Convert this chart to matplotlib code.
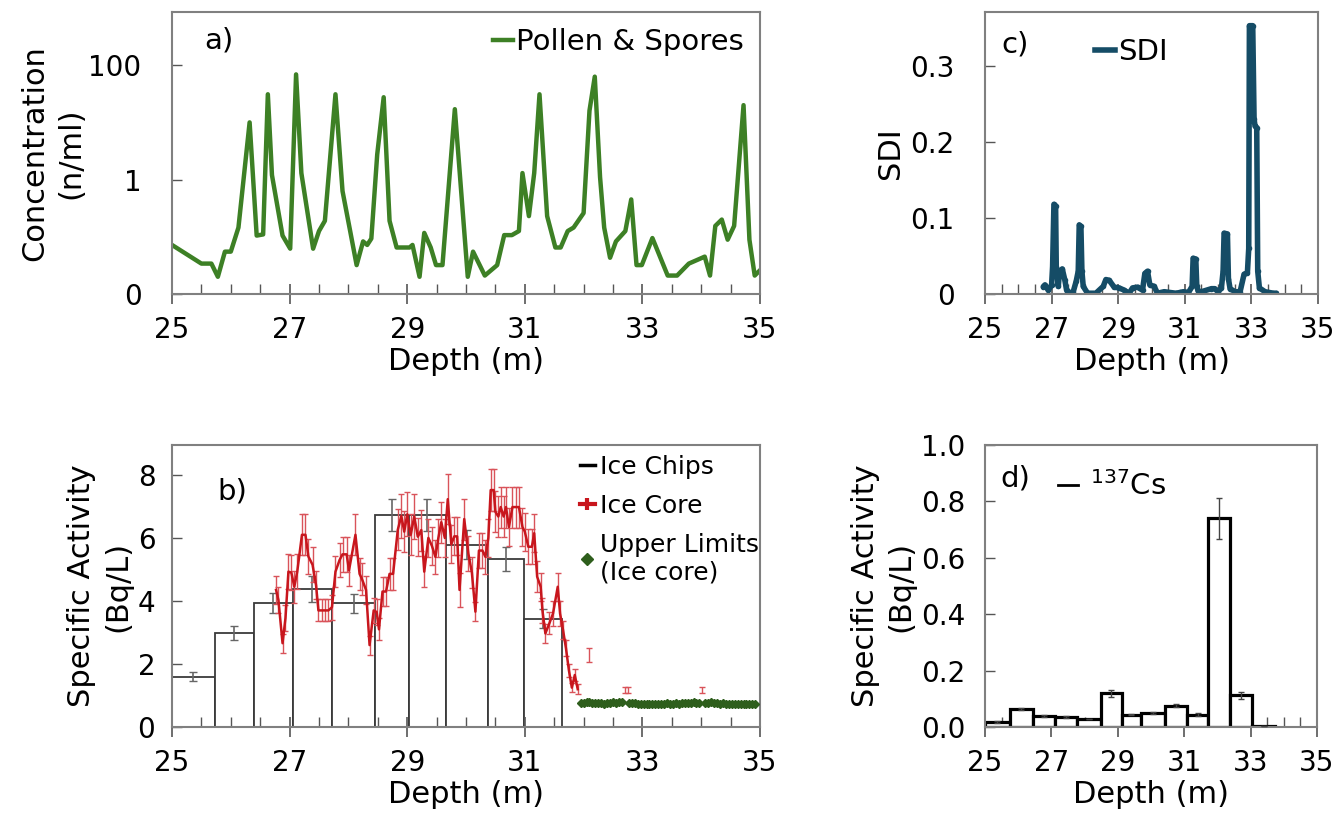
import numpy as np
import matplotlib
matplotlib.use('Agg')
from matplotlib import pyplot as plt
from matplotlib.ticker import MultipleLocator
from matplotlib.lines import Line2D

plt.rcParams['font.family'] = ['DejaVu Sans']

# ---- a) pollen & spores (log scale)
pollen_depth = [25.0, 25.5, 25.67, 25.78, 25.9, 26.0, 26.13, 26.32, 26.44, 26.55,
                26.63, 26.70, 26.88, 27.01, 27.11, 27.2, 27.4, 27.5, 27.6, 27.78,
                27.9, 28.03, 28.14, 28.25, 28.32, 28.39, 28.49, 28.6, 28.7, 28.82,
                29.04, 29.09, 29.21, 29.29, 29.4, 29.49, 29.6, 29.81, 30.03, 30.12,
                30.32, 30.53, 30.65, 30.78, 30.9, 30.96, 31.07, 31.16, 31.25, 31.38,
                31.52, 31.61, 31.73, 31.83, 32.0, 32.1, 32.19, 32.28, 32.35, 32.45,
                32.55, 32.71, 32.81, 32.9, 32.99, 33.17, 33.43, 33.59, 33.79, 34.06,
                34.15, 34.24, 34.35, 34.45, 34.56, 34.72, 34.82, 34.91, 35.0]
pollen_conc = [0.072, 0.034, 0.034, 0.020, 0.055, 0.055, 0.145, 10, 0.105, 0.11,
               31, 1.2, 0.105, 0.062, 69, 1.3, 0.062, 0.126, 0.19, 31,
               0.63, 0.126, 0.032, 0.083, 0.072, 0.093, 2.75, 27.5, 0.19, 0.065,
               0.065, 0.072, 0.020, 0.117, 0.065, 0.032, 0.032, 17, 0.020, 0.055,
               0.021, 0.032, 0.107, 0.107, 0.126, 1.3, 0.23, 1.3, 31, 0.23,
               0.065, 0.065, 0.126, 0.145, 0.26, 16, 63, 1.1, 0.145, 0.043,
               0.083, 0.126, 0.45, 0.032, 0.032, 0.095, 0.021, 0.021, 0.034, 0.045,
               0.021, 0.155, 0.2, 0.089, 0.155, 20, 0.089, 0.021, 0.026]

# ---- b) specific activity: ice chips (bars), ice core (line), upper limits
chip_edges = [25.0, 25.73, 26.39, 27.05, 27.72, 28.46, 29.03, 29.66, 30.38, 30.99, 31.63]
chip_vals = [1.6, 2.97, 3.93, 4.38, 3.93, 6.73, 6.73, 5.78, 5.32, 3.43]
chip_err = [0.15, 0.22, 0.32, 0.4, 0.3, 0.5, 0.5, 0.46, 0.38, 0.3]

core_depth = [26.77, 26.81, 26.88, 26.93, 26.98, 27.03, 27.08, 27.13, 27.21, 27.27,
              27.32, 27.39, 27.45, 27.49, 27.55, 27.61, 27.66, 27.72, 27.78, 27.85,
              27.90, 27.97, 28.01, 28.12, 28.19, 28.23, 28.30, 28.36, 28.43, 28.48,
              28.52, 28.58, 28.64, 28.70, 28.76, 28.84, 28.90, 28.95, 29.00, 29.06,
              29.12, 29.18, 29.24, 29.29, 29.36, 29.42, 29.48, 29.53, 29.58, 29.64,
              29.69, 29.75, 29.80, 29.85, 29.89, 29.97, 30.04, 30.10, 30.16, 30.22,
              30.28, 30.33, 30.38, 30.42, 30.47, 30.50, 30.55, 30.59, 30.64, 30.68,
              30.73, 30.79, 30.85, 30.90, 30.96, 31.00, 31.06, 31.12, 31.16, 31.21,
              31.27, 31.30, 31.35, 31.42, 31.48, 31.56, 31.60, 31.65, 31.70, 31.75,
              31.80, 31.85, 31.90]
core_vals = [4.35, 4.03, 2.66, 3.46, 4.93, 4.90, 4.45, 4.93, 6.10, 6.10,
             5.41, 5.15, 4.50, 3.70, 3.70, 3.70, 3.70, 3.80, 4.93, 5.30,
             5.48, 5.48, 4.97, 6.10, 4.86, 4.70, 4.35, 2.60, 3.70, 3.65,
             3.10, 4.30, 4.30, 4.86, 4.86, 6.26, 6.70, 6.20, 6.75, 6.10,
             6.68, 6.04, 6.25, 4.93, 6.00, 5.75, 5.40, 6.00, 6.50, 6.00,
             7.23, 5.80, 6.05, 6.05, 4.35, 6.60, 5.50, 4.90, 3.66, 5.60,
             5.60, 5.40, 6.00, 7.52, 7.52, 6.83, 6.68, 6.98, 6.68, 6.98,
             6.35, 6.98, 6.98, 6.98, 6.35, 6.20, 5.72, 5.72, 6.15, 4.77,
             4.45, 3.70, 2.97, 3.30, 3.60, 4.45, 3.60, 3.08, 2.50, 1.80,
             1.25, 1.65, 1.20]
core_err = [0.45, 0.40, 0.30, 0.40, 0.55, 0.55, 0.50, 0.55, 0.65, 0.65,
            0.55, 0.55, 0.45, 0.35, 0.35, 0.35, 0.35, 0.40, 0.50, 0.55,
            0.55, 0.55, 0.50, 0.65, 0.50, 0.50, 0.45, 0.30, 0.40, 0.40,
            0.35, 0.45, 0.45, 0.50, 0.50, 0.65, 0.70, 0.65, 0.70, 0.65,
            0.70, 0.60, 0.65, 0.50, 0.60, 0.60, 0.55, 0.60, 0.65, 0.60,
            0.80, 0.60, 0.60, 0.60, 0.55, 0.65, 0.55, 0.50, 0.30, 0.55,
            0.55, 0.55, 0.60, 0.66, 0.66, 0.65, 0.65, 0.65, 0.65, 0.65,
            0.60, 0.65, 0.65, 0.65, 0.60, 0.60, 0.55, 0.55, 0.60, 0.50,
            0.45, 0.40, 0.30, 0.35, 0.40, 0.45, 0.40, 0.30, 0.25, 0.20,
            0.15, 0.20, 0.15]

single_depth = [32.09, 32.70, 32.76, 34.02]
single_vals = [2.29, 1.17, 1.17, 1.17]
single_err = [0.23, 0.09, 0.09, 0.10]

ul_depth = [31.95, 32.0, 32.05, 32.1, 32.15, 32.2, 32.25, 32.3, 32.35, 32.4,
            32.45, 32.5, 32.55, 32.6, 32.65,
            32.77, 32.82, 32.87, 32.92, 32.97, 33.02, 33.07, 33.12, 33.17, 33.22,
            33.27, 33.32, 33.37, 33.42, 33.47, 33.52, 33.57, 33.62, 33.67, 33.72,
            33.77, 33.82, 33.87, 33.92, 33.97,
            34.07, 34.12, 34.17, 34.22, 34.27, 34.32, 34.37, 34.42, 34.47, 34.52,
            34.57, 34.62, 34.67, 34.72, 34.77, 34.82, 34.87, 34.92]
ul_vals = [0.76, 0.77, 0.78, 0.79, 0.77, 0.75, 0.76, 0.75, 0.74, 0.76,
           0.77, 0.78, 0.77, 0.79, 0.80,
           0.77, 0.76, 0.75, 0.74, 0.74, 0.73, 0.72, 0.73, 0.72, 0.73,
           0.74, 0.73, 0.74, 0.75, 0.74, 0.73, 0.75, 0.74, 0.75, 0.76,
           0.77, 0.76, 0.78, 0.77, 0.76,
           0.76, 0.77, 0.78, 0.76, 0.75, 0.74, 0.75, 0.74, 0.73, 0.74,
           0.73, 0.74, 0.73, 0.74, 0.73, 0.73, 0.73, 0.72]

# ---- c) SDI
sdi_depth = [26.75, 26.8, 26.9, 27.0, 27.03, 27.07, 27.12, 27.14, 27.2, 27.24,
             27.32, 27.4, 27.45, 27.5, 27.65, 27.74, 27.8, 27.83, 27.88, 27.91,
             27.95, 28.08, 28.33, 28.55, 28.63, 28.73, 28.88, 29.03, 29.18, 29.33,
             29.43, 29.58, 29.73, 29.8, 29.88, 29.95, 30.08, 30.18, 30.38, 30.73,
             30.86, 30.96, 31.11, 31.22, 31.25, 31.33, 31.36, 31.4, 31.5, 31.8,
             31.9, 32.0, 32.1, 32.15, 32.18, 32.28, 32.31, 32.36, 32.51, 32.66,
             32.78, 32.88, 32.92, 32.94, 33.04, 33.08, 33.11, 33.16, 33.19, 33.24,
             33.41, 33.66, 33.75]
sdi_vals = [0.0097, 0.012, 0.005, 0.012, 0.036, 0.118, 0.116, 0.036, 0.01, 0.03,
            0.033, 0.018, 0.005, 0.001, 0.003, 0.017, 0.03, 0.091, 0.089, 0.03,
            0.01, 0.001, 0.001, 0.01, 0.019, 0.018, 0.009, 0.008, 0.005, 0.001,
            0.008, 0.009, 0.005, 0.027, 0.03, 0.012, 0.01, 0.001, 0.003, 0.001,
            0.002, 0.003, 0.002, 0.01, 0.047, 0.046, 0.01, 0.004, 0.003, 0.007,
            0.007, 0.003, 0.008, 0.03, 0.080, 0.079, 0.02, 0.007, 0.003, 0.003,
            0.026, 0.028, 0.06, 0.353, 0.353, 0.23, 0.221, 0.219, 0.03, 0.008,
            0.003, 0.001, 0.001]

# ---- d) 137Cs
cs_edges = [25.0, 25.74, 26.44, 27.12, 27.78, 28.48, 29.12, 29.70, 30.42, 31.09,
            31.72, 32.37, 33.05, 33.74]
cs_vals = [0.018, 0.065, 0.038, 0.036, 0.03, 0.119, 0.044, 0.05, 0.076, 0.044,
           0.74, 0.113, 0.005]
cs_err = [0.003, 0.004, 0.003, 0.003, 0.0, 0.012, 0.003, 0.003, 0.005, 0.004,
          0.073, 0.012, 0.0]

FS = 20      # tick labels / legends
LFS = 22     # axis labels
fig = plt.figure(figsize=(13.4, 8.18), dpi=100)
W, H = 1340, 818


def px_axes(l, t, r, b):
    return fig.add_axes([l / W, 1 - b / H, (r - l) / W, (b - t) / H])


def style(ax, ypad):
    for s in ax.spines.values():
        s.set_color('#808080')
        s.set_linewidth(1.5)
    ax.set_xlim(25, 35)
    ax.set_xticks([25, 27, 29, 31, 33, 35])
    ax.xaxis.set_minor_locator(MultipleLocator(0.5))
    ax.tick_params(axis='x', which='major', direction='inout', length=14,
                   width=1.2, color='#555555', pad=9, labelsize=FS)
    ax.tick_params(axis='x', which='minor', direction='in', length=7,
                   width=1.0, color='#555555')
    ax.tick_params(axis='y', which='major', direction='in', length=7,
                   width=1.0, color='#555555', pad=ypad, labelsize=FS)
    ax.tick_params(axis='y', which='minor', left=False)
    ax.set_xlabel('Depth (m)', fontsize=LFS, labelpad=2)


# a)
ax_a = px_axes(172, 12, 760, 294)
ax_a.plot(pollen_depth, pollen_conc, color='#3d8025', lw=3.2, label='Pollen & Spores')
ax_a.set_yscale('log')
ax_a.set_ylim(0.01, 850)
style(ax_a, 22)
ax_a.set_yticks([0.01, 1, 100])
ax_a.set_yticklabels(['0', '1', '100'])
ax_a.set_ylabel('Concentration\n(n/ml)', fontsize=LFS, linespacing=1.3, labelpad=2)
ax_a.text(0.055, 0.9, 'a)', transform=ax_a.transAxes, fontsize=FS + 1, va='center')
ax_a.legend(loc='upper right', frameon=False, fontsize=FS + 1, handlelength=0.7,
            handletextpad=0.1, borderaxespad=0.15)

# b)
ax_b = px_axes(172, 445, 760, 727)
ax_b.bar(chip_edges[:-1], chip_vals, width=np.diff(chip_edges), align='edge',
         facecolor='white', edgecolor='#3a3a3a', lw=1.3, zorder=1)
chip_mid = [(chip_edges[i] + chip_edges[i + 1]) / 2 for i in range(len(chip_vals))]
ax_b.errorbar(chip_mid, chip_vals, yerr=chip_err, fmt='none', ecolor='#666666',
              elinewidth=1.2, capsize=3, zorder=2)
ax_b.errorbar(core_depth, core_vals, yerr=core_err, color='#c8161d', lw=1.8,
              ecolor='#d9535a', elinewidth=1.0, capsize=2.5, zorder=3)
ax_b.errorbar(single_depth, single_vals, yerr=single_err, fmt='none',
              ecolor='#d9535a', elinewidth=1.0, capsize=2.5, zorder=3)
ax_b.plot(ul_depth, ul_vals, 'D', color='#2e5e1c', ms=4, zorder=3)
ax_b.set_ylim(0, 8.95)
style(ax_b, 12)
ax_b.set_yticks([0, 2, 4, 6, 8])
ax_b.set_ylabel('Specific Activity\n(Bq/L)', fontsize=LFS, linespacing=1.3, labelpad=4)
ax_b.text(0.078, 0.835, 'b)', transform=ax_b.transAxes, fontsize=FS + 1, va='center')
hb = [Line2D([], [], color='black', lw=2.5),
      Line2D([], [], color='#c8161d', lw=3, marker='|', ms=8, mew=3),
      Line2D([], [], color='#2e5e1c', ls='none', marker='D', ms=6)]
ax_b.legend(hb, ['Ice Chips', 'Ice Core', 'Upper Limits\n(Ice core)'],
            loc='upper left', bbox_to_anchor=(0.655, 1.045), frameon=False,
            fontsize=FS - 2, handlelength=0.6, handletextpad=0.2, labelspacing=0.6)

# c)
ax_c = px_axes(985, 12, 1318, 294)
ax_c.plot(sdi_depth, sdi_vals, color='#154c66', lw=4, marker='o', ms=3,
          solid_joinstyle='round', solid_capstyle='round')
ax_c.set_ylim(0, 0.371)
style(ax_c, 22)
ax_c.set_yticks([0, 0.1, 0.2, 0.3])
ax_c.set_yticklabels(['0', '0.1', '0.2', '0.3'])
ax_c.set_ylabel('SDI', fontsize=LFS, labelpad=4)
ax_c.text(0.05, 0.885, 'c)', transform=ax_c.transAxes, fontsize=FS + 1, va='center')
ax_c.legend([Line2D([], [], color='#154c66', lw=4)], ['SDI'], loc='upper left',
            bbox_to_anchor=(0.25, 1.0), frameon=False, fontsize=FS + 1,
            handlelength=0.7, handletextpad=0.1)

# d)
ax_d = px_axes(985, 445, 1317, 727)
ax_d.bar(cs_edges[:-1], cs_vals, width=np.diff(cs_edges), align='edge',
         facecolor='white', edgecolor='black', lw=2.3, zorder=2)
cs_mid = [(cs_edges[i] + cs_edges[i + 1]) / 2 for i in range(len(cs_vals))]
ax_d.errorbar(cs_mid, cs_vals, yerr=cs_err, fmt='none', ecolor='#444444',
              elinewidth=1.0, capsize=2.5, zorder=3)
ax_d.set_ylim(0, 1.0)
style(ax_d, 14)
ax_d.set_yticks([0, 0.2, 0.4, 0.6, 0.8, 1.0])
ax_d.set_yticklabels(['0.0', '0.2', '0.4', '0.6', '0.8', '1.0'])
ax_d.set_ylabel('Specific Activity\n(Bq/L)', fontsize=LFS, linespacing=1.3, labelpad=4)
ax_d.text(0.045, 0.88, 'd)', transform=ax_d.transAxes, fontsize=FS + 1, va='center')
ax_d.legend([Line2D([], [], color='black', lw=2)], ['$^{137}$Cs'], loc='upper left',
            bbox_to_anchor=(0.14, 1.0), frameon=False, fontsize=FS + 1,
            handlelength=0.7, handletextpad=0.4)

fig.savefig('out.png', dpi=100)
